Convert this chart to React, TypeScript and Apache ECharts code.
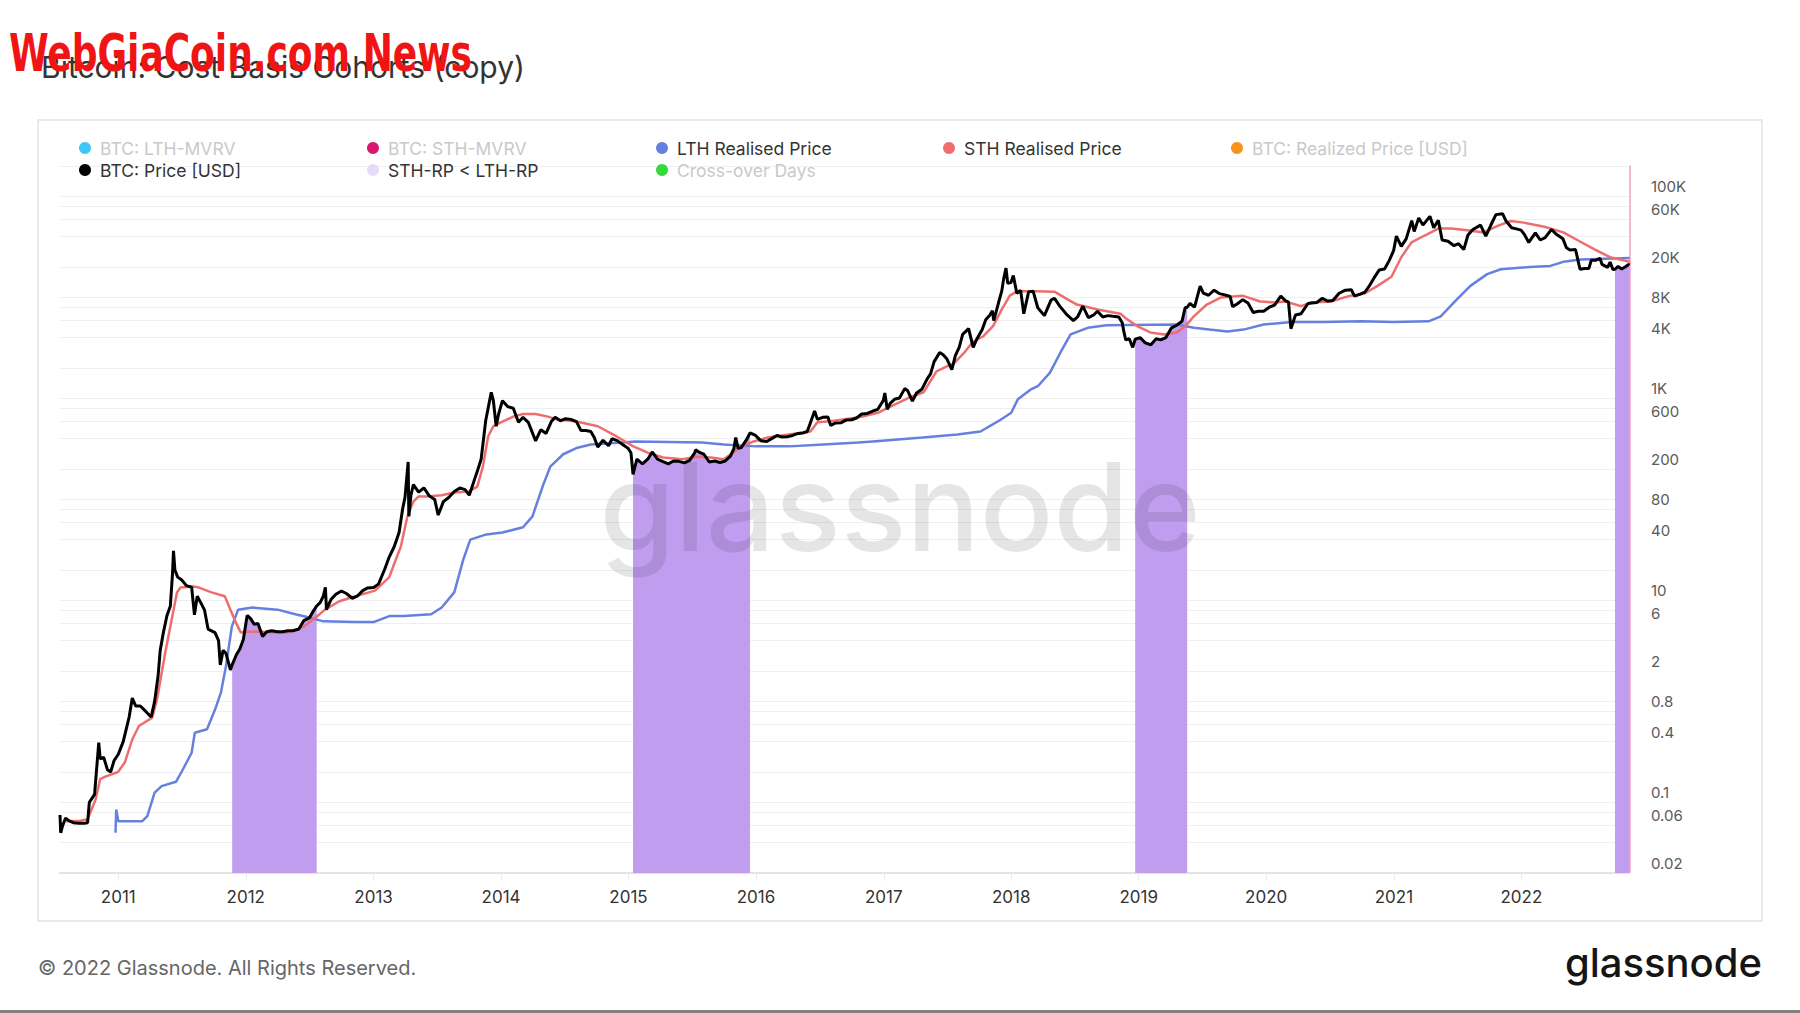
import React, { useEffect, useRef } from "react";
import * as echarts from "echarts";

// ---------- DATA ----------
const priceData: [string, number][] = [
  ["2010-07-18", 0.075], ["2010-07-20", 0.05], ["2010-07-25", 0.058], ["2010-08-03", 0.07], ["2010-08-12", 0.066],
  ["2010-08-25", 0.063], ["2010-09-10", 0.062], ["2010-09-25", 0.062], ["2010-10-05", 0.063], ["2010-10-10", 0.1],
  ["2010-10-25", 0.12], ["2010-11-06", 0.39], ["2010-11-10", 0.27], ["2010-11-20", 0.28], ["2010-12-01", 0.21],
  ["2010-12-10", 0.2], ["2010-12-20", 0.26], ["2011-01-01", 0.3], ["2011-01-15", 0.4], ["2011-02-01", 0.7],
  ["2011-02-10", 1.08], ["2011-02-20", 0.9], ["2011-03-05", 0.9], ["2011-03-20", 0.8], ["2011-04-05", 0.7],
  ["2011-04-15", 1.0], ["2011-04-25", 1.8], ["2011-05-01", 3.2], ["2011-05-10", 4.8], ["2011-05-20", 7],
  ["2011-05-30", 8.8], ["2011-06-05", 18], ["2011-06-08", 31], ["2011-06-12", 20], ["2011-06-20", 17],
  ["2011-07-01", 16], ["2011-07-15", 14], ["2011-07-30", 13.5], ["2011-08-07", 7.2], ["2011-08-15", 11],
  ["2011-08-25", 9.5], ["2011-09-05", 8], ["2011-09-15", 5.2], ["2011-09-25", 5], ["2011-10-05", 4.8],
  ["2011-10-15", 4], ["2011-10-20", 2.3], ["2011-10-28", 3.2], ["2011-11-05", 3], ["2011-11-18", 2.05],
  ["2011-11-23", 2.3], ["2011-12-05", 2.9], ["2011-12-15", 3.3], ["2011-12-25", 4.1], ["2012-01-05", 7.1],
  ["2012-01-15", 6.6], ["2012-01-25", 5.8], ["2012-02-05", 5.9], ["2012-02-18", 4.4], ["2012-03-01", 4.9],
  ["2012-03-15", 5], ["2012-04-01", 4.9], ["2012-04-15", 4.9], ["2012-05-01", 5], ["2012-05-15", 5],
  ["2012-06-01", 5.2], ["2012-06-15", 6.3], ["2012-07-01", 6.7], ["2012-07-12", 7.8], ["2012-07-22", 8.8],
  ["2012-08-01", 9.5], ["2012-08-10", 11], ["2012-08-16", 13.5], ["2012-08-19", 8.1], ["2012-09-01", 10.2],
  ["2012-09-15", 11.5], ["2012-10-01", 12.4], ["2012-10-15", 11.7], ["2012-11-01", 10.5], ["2012-11-15", 11],
  ["2012-12-01", 12.5], ["2012-12-15", 13.3], ["2013-01-01", 13.4], ["2013-01-15", 14.5], ["2013-02-01", 20],
  ["2013-02-15", 27], ["2013-03-01", 34], ["2013-03-15", 47], ["2013-03-25", 80], ["2013-04-01", 105],
  ["2013-04-10", 235], ["2013-04-12", 68], ["2013-04-18", 110], ["2013-04-25", 140], ["2013-05-10", 118],
  ["2013-05-25", 130], ["2013-06-10", 108], ["2013-06-25", 100], ["2013-07-05", 70], ["2013-07-20", 95],
  ["2013-08-05", 105], ["2013-08-20", 120], ["2013-09-05", 130], ["2013-09-20", 125], ["2013-10-02", 110],
  ["2013-10-15", 150], ["2013-10-25", 190], ["2013-11-05", 250], ["2013-11-12", 400], ["2013-11-18", 600],
  ["2013-11-25", 800], ["2013-12-04", 1150], ["2013-12-10", 950], ["2013-12-18", 530], ["2013-12-25", 700],
  ["2014-01-05", 950], ["2014-01-20", 830], ["2014-02-05", 800], ["2014-02-20", 580], ["2014-03-05", 650],
  ["2014-03-20", 580], ["2014-04-10", 380], ["2014-04-25", 490], ["2014-05-10", 450], ["2014-05-25", 590],
  ["2014-06-05", 650], ["2014-06-20", 600], ["2014-07-05", 630], ["2014-07-20", 620], ["2014-08-05", 590],
  ["2014-08-18", 480], ["2014-09-01", 480], ["2014-09-15", 470], ["2014-09-25", 410], ["2014-10-05", 330],
  ["2014-10-20", 385], ["2014-11-05", 340], ["2014-11-15", 400], ["2014-12-01", 380], ["2014-12-15", 350],
  ["2014-12-31", 320], ["2015-01-08", 290], ["2015-01-14", 177], ["2015-01-25", 250], ["2015-02-10", 225],
  ["2015-02-25", 250], ["2015-03-10", 295], ["2015-03-25", 250], ["2015-04-10", 237], ["2015-04-25", 225],
  ["2015-05-10", 240], ["2015-05-25", 238], ["2015-06-10", 230], ["2015-06-25", 243], ["2015-07-10", 290],
  ["2015-07-12", 310], ["2015-07-25", 290], ["2015-08-05", 280], ["2015-08-20", 235], ["2015-09-05", 240],
  ["2015-09-20", 232], ["2015-10-05", 240], ["2015-10-20", 268], ["2015-10-30", 320], ["2015-11-04", 410],
  ["2015-11-11", 320], ["2015-11-20", 326], ["2015-12-05", 390], ["2015-12-15", 455], ["2015-12-31", 430],
  ["2016-01-15", 380], ["2016-02-01", 375], ["2016-02-15", 400], ["2016-03-01", 430], ["2016-03-15", 415],
  ["2016-04-01", 418], ["2016-04-15", 430], ["2016-05-01", 450], ["2016-05-15", 455], ["2016-05-27", 470],
  ["2016-06-05", 575], ["2016-06-17", 750], ["2016-06-25", 620], ["2016-07-10", 650], ["2016-07-25", 655],
  ["2016-08-02", 540], ["2016-08-15", 570], ["2016-09-01", 575], ["2016-09-15", 610], ["2016-10-01", 615],
  ["2016-10-15", 640], ["2016-10-30", 700], ["2016-11-15", 710], ["2016-12-01", 750], ["2016-12-15", 780],
  ["2016-12-31", 960], ["2017-01-04", 1130], ["2017-01-11", 780], ["2017-01-20", 900], ["2017-02-01", 980],
  ["2017-02-15", 1010], ["2017-03-02", 1250], ["2017-03-10", 1200], ["2017-03-24", 940], ["2017-04-05", 1130],
  ["2017-04-20", 1230], ["2017-05-05", 1550], ["2017-05-15", 1750], ["2017-05-25", 2300], ["2017-06-10", 2850],
  ["2017-06-20", 2700], ["2017-07-01", 2450], ["2017-07-15", 1930], ["2017-07-25", 2650], ["2017-08-05", 3200],
  ["2017-08-15", 4300], ["2017-09-01", 4900], ["2017-09-14", 3200], ["2017-09-25", 3900], ["2017-10-10", 4800],
  ["2017-10-20", 6000], ["2017-11-01", 6700], ["2017-11-08", 7400], ["2017-11-12", 5900], ["2017-11-25", 8700],
  ["2017-12-05", 11600], ["2017-12-10", 15000], ["2017-12-17", 19500], ["2017-12-22", 13800], ["2017-12-31", 14000],
  ["2018-01-07", 16500], ["2018-01-17", 11000], ["2018-01-28", 11700], ["2018-02-06", 6900], ["2018-02-20", 11400],
  ["2018-03-05", 11500], ["2018-03-18", 7900], ["2018-04-06", 6600], ["2018-04-25", 9400], ["2018-05-05", 9800],
  ["2018-05-20", 8200], ["2018-06-10", 6700], ["2018-06-28", 5900], ["2018-07-10", 6400], ["2018-07-25", 8200],
  ["2018-08-10", 6300], ["2018-08-25", 6700], ["2018-09-05", 7300], ["2018-09-20", 6400], ["2018-10-05", 6600],
  ["2018-10-20", 6500], ["2018-11-05", 6400], ["2018-11-15", 5600], ["2018-11-20", 4500], ["2018-11-25", 3800],
  ["2018-12-05", 3900], ["2018-12-15", 3200], ["2018-12-22", 3850], ["2019-01-05", 4000], ["2019-01-20", 3550],
  ["2019-02-05", 3400], ["2019-02-20", 3900], ["2019-03-05", 3800], ["2019-03-20", 4000], ["2019-04-05", 5000],
  ["2019-04-20", 5300], ["2019-05-05", 5800], ["2019-05-14", 7900], ["2019-05-20", 8000], ["2019-05-28", 8700],
  ["2019-06-10", 8000], ["2019-06-26", 12900], ["2019-07-05", 11000], ["2019-07-20", 10500], ["2019-08-05", 11800],
  ["2019-08-20", 10900], ["2019-09-05", 10600], ["2019-09-20", 10200], ["2019-09-27", 8100], ["2019-10-10", 8600],
  ["2019-10-26", 9500], ["2019-11-10", 8800], ["2019-11-25", 7100], ["2019-12-10", 7300], ["2019-12-25", 7300],
  ["2020-01-10", 8000], ["2020-01-25", 8400], ["2020-02-12", 10300], ["2020-02-25", 9300], ["2020-03-05", 9000],
  ["2020-03-12", 4900], ["2020-03-25", 6700], ["2020-04-10", 6900], ["2020-04-30", 8700], ["2020-05-10", 8800],
  ["2020-05-25", 8900], ["2020-06-10", 9800], ["2020-06-25", 9200], ["2020-07-10", 9300], ["2020-07-28", 11000],
  ["2020-08-15", 11800], ["2020-09-01", 11900], ["2020-09-10", 10300], ["2020-09-25", 10700], ["2020-10-10", 11300],
  ["2020-10-22", 12900], ["2020-11-05", 15600], ["2020-11-20", 18700], ["2020-12-05", 19100], ["2020-12-18", 23000],
  ["2020-12-31", 29000], ["2021-01-08", 40500], ["2021-01-22", 32000], ["2021-02-05", 38000], ["2021-02-21", 57500],
  ["2021-02-28", 45000], ["2021-03-13", 61000], ["2021-03-25", 52000], ["2021-04-14", 63500], ["2021-04-25", 49000],
  ["2021-05-08", 58000], ["2021-05-19", 37000], ["2021-06-05", 36000], ["2021-06-22", 32500], ["2021-07-05", 34000],
  ["2021-07-20", 29800], ["2021-08-01", 41500], ["2021-08-15", 47000], ["2021-09-06", 52000], ["2021-09-21", 40500],
  ["2021-10-05", 51500], ["2021-10-20", 66000], ["2021-11-08", 67500], ["2021-11-18", 57000], ["2021-12-04", 49000],
  ["2021-12-15", 48000], ["2021-12-31", 46300], ["2022-01-10", 41800], ["2022-01-22", 35000], ["2022-02-10", 43500],
  ["2022-02-24", 37000], ["2022-03-10", 39000], ["2022-03-28", 47000], ["2022-04-10", 42500], ["2022-04-30", 38000],
  ["2022-05-10", 31000], ["2022-05-20", 29500], ["2022-06-05", 29800], ["2022-06-15", 21000], ["2022-06-18", 19000],
  ["2022-07-01", 19300], ["2022-07-13", 19300], ["2022-07-20", 23300], ["2022-08-01", 23300], ["2022-08-14", 24400],
  ["2022-08-20", 21200], ["2022-09-05", 19800], ["2022-09-12", 22400], ["2022-09-20", 18900], ["2022-09-26", 19000],
  ["2022-10-05", 20300], ["2022-10-15", 19100], ["2022-10-25", 20000], ["2022-11-04", 21200], ["2022-11-07", 20900],
];

const sthRealisedPrice: [string, number][] = [
  ["2010-08-05", 0.065], ["2010-09-15", 0.066], ["2010-10-05", 0.068], ["2010-10-28", 0.107], ["2010-11-10", 0.17],
  ["2010-11-25", 0.18], ["2010-12-31", 0.2], ["2011-01-20", 0.25], ["2011-02-10", 0.42], ["2011-03-01", 0.57],
  ["2011-04-08", 0.69], ["2011-04-22", 1.05], ["2011-05-15", 3.0], ["2011-06-03", 6.5], ["2011-06-18", 12],
  ["2011-06-28", 13.4], ["2011-08-08", 13.7], ["2011-08-20", 13.4], ["2011-09-25", 12], ["2011-11-02", 11],
  ["2011-11-18", 8.1], ["2011-12-03", 6.1], ["2011-12-18", 4.8], ["2012-01-05", 4.9], ["2012-02-15", 4.9],
  ["2012-03-25", 4.8], ["2012-04-30", 4.8], ["2012-06-15", 5.5], ["2012-07-20", 6.8], ["2012-08-15", 8.1],
  ["2012-09-25", 9.8], ["2012-11-10", 11], ["2013-01-05", 12.5], ["2013-02-15", 17], ["2013-03-03", 24],
  ["2013-03-20", 34], ["2013-04-08", 68], ["2013-04-25", 95], ["2013-05-10", 107], ["2013-06-01", 107],
  ["2013-07-15", 110], ["2013-08-20", 117], ["2013-10-01", 120], ["2013-10-25", 134], ["2013-11-10", 211],
  ["2013-11-25", 420], ["2013-12-10", 530], ["2014-01-05", 590], ["2014-02-05", 660], ["2014-03-05", 700],
  ["2014-04-10", 700], ["2014-05-15", 660], ["2014-06-10", 620], ["2014-08-05", 590], ["2014-10-05", 530],
  ["2014-11-28", 420], ["2015-01-15", 335], ["2015-02-25", 290], ["2015-04-10", 260], ["2015-06-05", 250],
  ["2015-07-15", 265], ["2015-08-25", 260], ["2015-10-01", 250], ["2015-11-15", 325], ["2015-12-25", 375],
  ["2016-02-05", 410], ["2016-04-05", 440], ["2016-06-05", 470], ["2016-06-25", 580], ["2016-08-01", 595],
  ["2016-11-01", 660], ["2016-12-15", 720], ["2017-01-20", 830], ["2017-03-15", 1020], ["2017-04-25", 1150],
  ["2017-06-01", 1850], ["2017-07-01", 2080], ["2017-07-20", 2200], ["2017-08-20", 2850], ["2017-09-12", 3600],
  ["2017-10-12", 4100], ["2017-11-10", 5200], ["2017-12-05", 7600], ["2017-12-28", 10400], ["2018-01-20", 11600],
  ["2018-02-15", 11500], ["2018-03-15", 11500], ["2018-05-05", 11400], ["2018-06-10", 9600], ["2018-07-08", 8500],
  ["2018-09-05", 7600], ["2018-11-10", 6900], ["2018-11-28", 6100], ["2018-12-28", 5200], ["2019-02-03", 4500],
  ["2019-03-15", 4300], ["2019-04-20", 4500], ["2019-05-15", 5200], ["2019-06-08", 6500], ["2019-07-15", 8500],
  ["2019-08-25", 10000], ["2019-10-25", 10400], ["2019-12-15", 9100], ["2020-01-25", 8900], ["2020-02-25", 9100],
  ["2020-04-10", 8200], ["2020-05-10", 8900], ["2020-07-05", 9100], ["2020-08-12", 10000], ["2020-08-30", 10400],
  ["2020-10-10", 11000], ["2020-11-15", 13000], ["2020-12-25", 16000], ["2021-01-22", 25000], ["2021-02-20", 35000],
  ["2021-03-30", 41000], ["2021-05-08", 48000], ["2021-06-15", 48000], ["2021-08-05", 46000], ["2021-09-15", 44000],
  ["2021-10-25", 51000], ["2021-12-01", 57000], ["2022-01-08", 55000], ["2022-03-08", 50000], ["2022-05-01", 44000],
  ["2022-06-10", 37000], ["2022-07-28", 30000], ["2022-09-12", 25000], ["2022-11-07", 22500],
];

const lthRealisedPrice: [string, number][] = [
  ["2010-12-24", 0.05], ["2010-12-26", 0.085], ["2011-01-01", 0.065], ["2011-03-10", 0.065], ["2011-03-25", 0.073],
  ["2011-04-15", 0.125], ["2011-05-05", 0.145], ["2011-06-15", 0.16], ["2011-07-01", 0.2], ["2011-07-30", 0.31],
  ["2011-08-08", 0.49], ["2011-09-12", 0.53], ["2011-10-05", 0.83], ["2011-10-22", 1.23], ["2011-11-05", 2.2],
  ["2011-11-22", 5.5], ["2011-12-10", 8.1], ["2012-01-20", 8.5], ["2012-04-01", 8.1], ["2012-05-22", 7.3],
  ["2012-06-28", 6.8], ["2012-08-10", 6.2], ["2012-11-10", 6.1], ["2013-01-01", 6.1], ["2013-02-15", 7.0],
  ["2013-03-28", 7.0], ["2013-06-15", 7.3], ["2013-07-15", 8.5], ["2013-08-20", 12], ["2013-09-15", 25.5],
  ["2013-10-05", 40], ["2013-11-20", 45], ["2014-01-05", 47], ["2014-03-05", 53], ["2014-04-01", 68],
  ["2014-04-30", 134], ["2014-05-22", 211], ["2014-06-28", 280], ["2014-08-08", 325], ["2014-09-15", 350],
  ["2014-12-15", 365], ["2015-01-20", 375], ["2015-07-31", 365], ["2015-10-01", 350], ["2016-01-01", 335],
  ["2016-04-05", 335], ["2016-07-12", 350], ["2016-10-20", 365], ["2016-12-01", 375], ["2017-04-22", 410],
  ["2017-07-31", 440], ["2017-10-05", 470], ["2017-11-25", 595], ["2018-01-01", 720], ["2018-01-20", 980],
  ["2018-02-25", 1220], ["2018-03-18", 1320], ["2018-04-22", 1800], ["2018-05-22", 2850], ["2018-06-20", 4300],
  ["2018-08-08", 5000], ["2018-10-01", 5300], ["2019-04-20", 5400], ["2019-06-08", 5000], ["2019-07-22", 4800],
  ["2019-09-12", 4600], ["2019-10-28", 4800], ["2019-12-25", 5400], ["2020-03-15", 5700], ["2020-06-15", 5700],
  ["2020-09-30", 5800], ["2020-12-31", 5700], ["2021-04-10", 5800], ["2021-05-15", 6500], ["2021-06-03", 7600],
  ["2021-07-01", 9600], ["2021-08-08", 13000], ["2021-09-25", 17000], ["2021-11-03", 19000], ["2022-01-25", 20000],
  ["2022-03-25", 20500], ["2022-05-01", 22500], ["2022-06-20", 23700], ["2022-11-07", 24500],
];

// periods where STH-RP < LTH-RP
const crossoverPeriods: [string, string][] = [
  ["2011-11-23", "2012-07-22"],
  ["2015-01-14", "2015-12-15"],
  ["2018-12-22", "2019-05-20"],
  ["2022-09-26", "2022-11-07"],
];

const xStart = "2010-07-18";
const xEnd = "2022-11-08";
const yearLabels = [2011, 2012, 2013, 2014, 2015, 2016, 2017, 2018, 2019, 2020, 2021, 2022];
const yLabelValues = [0.02, 0.06, 0.1, 0.4, 0.8, 2, 6, 10, 40, 80, 200, 600, 1000, 4000, 8000, 20000, 60000, 100000];
const yGridValues = [
  0.02, 0.04, 0.06, 0.08, 0.1, 0.2, 0.4, 0.6, 0.8, 1, 2, 4, 6, 8, 10, 20, 40, 60, 80, 100, 200, 400, 600, 800,
  1000, 2000, 4000, 6000, 8000, 10000, 20000, 40000, 60000, 80000, 100000, 200000,
];
const yMin = 0.02;
const yMax = 200000;

// ---------- helpers ----------
const ts = (d: string) => {
  const [y, m, dd] = d.split("-").map(Number);
  return Date.UTC(y, m - 1, dd);
};
const toLog = (arr: [string, number][]) => arr.map(([d, v]) => [ts(d), Math.log10(v)]);
const fmtY = (v: number) => {
  const x = Number(Math.pow(10, v).toPrecision(4));
  if (x >= 1000) return `${Number((x / 1000).toPrecision(4))}K`;
  return String(x);
};

const FONT = "Inter, 'Noto Sans', sans-serif";

const COLORS = {
  price: "#000000",
  sth: "#ee6e6e",
  lth: "#6680e0",
  band: "#c19df0",
  lthMvrv: "#3ec7f5",
  sthMvrv: "#d6186f",
  realized: "#f7931a",
  cross: "#35d93a",
};

export default function App() {
  const ref = useRef<HTMLDivElement>(null);

  useEffect(() => {
    if (!ref.current) return;
    const chart = echarts.init(ref.current, undefined, { renderer: "svg" });

    const bandData: any[] = [];
    crossoverPeriods.forEach(([s, e]) => {
      const s0 = ts(s);
      const e0 = ts(e);
      priceData.forEach(([d, v]) => {
        const t = ts(d);
        if (t >= s0 && t <= e0) bandData.push([t, Math.log10(v)]);
      });
      bandData.push([e0 + 86400000, "-"]);
    });

    const disabledText = { color: "#c9c9c9" };
    const legendBase = {
      orient: "vertical",
      top: 133,
      icon: "circle",
      itemWidth: 12,
      itemHeight: 12,
      itemGap: 2,
      selectedMode: false,
      textStyle: { fontSize: 17.5, color: "#333", fontFamily: FONT, lineHeight: 20, padding: [0, 0, 0, 4] },
    };

    const option: any = {
      animation: false,
      backgroundColor: "#ffffff",
      title: {
        text: "Bitcoin: Cost Basis Cohorts (copy)",
        left: 36,
        top: 47,
        textStyle: { fontSize: 30, fontWeight: "normal", color: "#333", fontFamily: FONT },
      },
      legend: [
        { ...legendBase, left: 74, data: [{ name: "BTC: LTH-MVRV", textStyle: disabledText }, { name: "BTC: Price [USD]" }] },
        {
          ...legendBase,
          left: 362,
          data: [
            { name: "BTC: STH-MVRV", textStyle: disabledText },
            { name: "STH-RP < LTH-RP", itemStyle: { color: "#e6dcf8" } },
          ],
        },
        { ...legendBase, left: 651, data: [{ name: "LTH Realised Price" }, { name: "Cross-over Days", textStyle: disabledText }] },
        { ...legendBase, left: 938, data: [{ name: "STH Realised Price" }] },
        { ...legendBase, left: 1226, data: [{ name: "BTC: Realized Price [USD]", textStyle: disabledText }] },
      ],
      grid: { left: 60, top: 166, width: 1570, height: 707 },
      xAxis: {
        type: "value",
        min: ts(xStart),
        max: ts(xEnd),
        axisLine: { show: true, onZero: false, lineStyle: { color: "#e4e4e4", width: 2 } },
        axisTick: {
          show: true,
          length: 8,
          lineStyle: { color: "#ececec", width: 1 },
          customValues: yearLabels.map((y) => Date.UTC(y, 0, 1)),
        },
        axisLabel: {
          customValues: yearLabels.map((y) => Date.UTC(y, 0, 1)),
          formatter: (v: number) => String(new Date(v).getUTCFullYear()),
          fontSize: 17,
          color: "#333",
          fontFamily: FONT,
          margin: 15,
        },
        splitLine: { show: false },
      },
      yAxis: {
        type: "value",
        position: "right",
        min: Math.log10(yMin),
        max: Math.log10(yMax),
        axisLine: { show: true, lineStyle: { color: "#f5a3bd", width: 1.5 } },
        axisTick: { show: false, customValues: yGridValues.map((v) => Math.log10(v)) },
        axisLabel: {
          customValues: yLabelValues.map((v) => Math.log10(v)),
          formatter: (v: number) => fmtY(v),
          fontSize: 15,
          color: "#5a5a5a",
          fontFamily: FONT,
          margin: 21,
          verticalAlign: "bottom",
          padding: [0, 0, 2, 0],
        },
        splitLine: { show: true, lineStyle: { color: "#efefef", width: 1 } },
      },
      series: [
        {
          name: "STH-RP < LTH-RP",
          type: "line",
          data: bandData,
          showSymbol: false,
          connectNulls: false,
          z: 1,
          itemStyle: { color: COLORS.band },
          lineStyle: { width: 0, color: COLORS.band },
          areaStyle: { color: COLORS.band, opacity: 1, origin: "start" },
        },
        {
          name: "LTH Realised Price",
          type: "line",
          data: toLog(lthRealisedPrice),
          showSymbol: false,
          z: 4,
          itemStyle: { color: COLORS.lth },
          lineStyle: { width: 2.5, color: COLORS.lth },
        },
        {
          name: "STH Realised Price",
          type: "line",
          data: toLog(sthRealisedPrice),
          showSymbol: false,
          z: 5,
          itemStyle: { color: COLORS.sth },
          lineStyle: { width: 2.5, color: COLORS.sth },
        },
        {
          name: "BTC: Price [USD]",
          type: "line",
          data: toLog(priceData),
          showSymbol: false,
          z: 6,
          itemStyle: { color: COLORS.price },
          lineStyle: { width: 3, color: COLORS.price },
        },
        { name: "BTC: LTH-MVRV", type: "line", data: [], itemStyle: { color: COLORS.lthMvrv } },
        { name: "BTC: STH-MVRV", type: "line", data: [], itemStyle: { color: COLORS.sthMvrv } },
        { name: "BTC: Realized Price [USD]", type: "line", data: [], itemStyle: { color: COLORS.realized } },
        { name: "Cross-over Days", type: "line", data: [], itemStyle: { color: COLORS.cross } },
      ],
      graphic: [
        {
          type: "rect",
          z: 0,
          shape: { x: 38, y: 120, width: 1724, height: 801 },
          style: { fill: "none", stroke: "#e2e2e2", lineWidth: 1.5 },
        },
        {
          type: "text",
          z: 3,
          x: 900,
          y: 506,
          style: {
            text: "glassnode",
            fontSize: 122,
            fontWeight: 500,
            fontFamily: FONT,
            fill: "rgba(0,0,0,0.1)",
            align: "center",
            verticalAlign: "middle",
          },
        },
        {
          type: "text",
          x: 38,
          y: 968,
          style: {
            text: "© 2022 Glassnode. All Rights Reserved.",
            fontSize: 20,
            fontFamily: FONT,
            fill: "#666",
            verticalAlign: "middle",
          },
        },
        {
          type: "text",
          x: 1762,
          y: 962,
          style: {
            text: "glassnode",
            fontSize: 40,
            fontWeight: 500,
            fontFamily: FONT,
            fill: "#151515",
            align: "right",
            verticalAlign: "middle",
          },
        },
        {
          type: "rect",
          shape: { x: 0, y: 1010, width: 1800, height: 3 },
          style: { fill: "#808080" },
        },
        {
          type: "text",
          z: 100,
          x: 9,
          y: 53,
          scaleX: 0.77,
          style: {
            text: "WebGiaCoin.com News",
            fontSize: 52,
            fontWeight: "bold",
            fontFamily: "'Liberation Sans Narrow', 'DejaVu Sans Condensed', sans-serif",
            fill: "#f01414",
            verticalAlign: "middle",
          },
        },
      ],
    };

    chart.setOption(option);
    return () => chart.dispose();
  }, []);

  return (
    <div
      ref={ref}
      style={{ position: "absolute", left: 0, top: 0, width: 1800, height: 1013, background: "#fff" }}
    />
  );
}
